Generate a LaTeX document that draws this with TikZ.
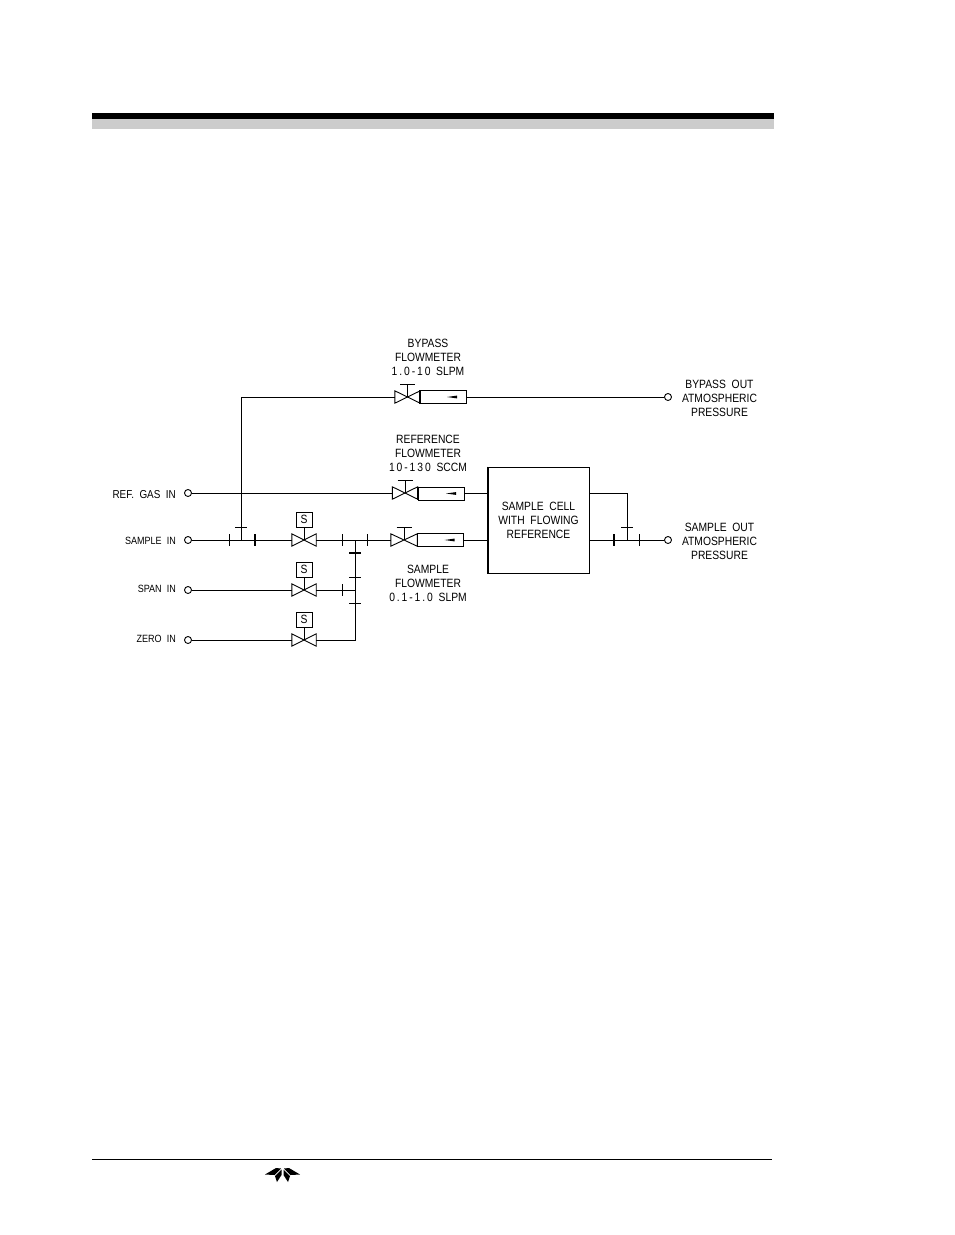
\documentclass[tikz,border=0pt]{standalone}
\usepackage{fontspec}
\setmainfont[FakeStretch=.86,WordSpace=2]{Liberation Sans}
\newcommand{\lab}{\fontsize{12}{14}\selectfont}
\newcommand{\labr}{\fontsize{11.5}{14}\selectfont}
\newcommand{\labs}{\fontsize{10.5}{14}\selectfont}
\newcommand{\digits}[1]{{\addfontfeatures{LetterSpace=16}#1}}
\newcommand{\valve}[4]{% name, x, y, half width
  \node[vbox,minimum width=#4*2pt] (#1) at (#2,#3) {};
  \draw[pipe] (#1.north west) -- (#1.south east) -- (#1.north east) -- (#1.south west) -- cycle;
}
\newcommand{\tickv}[2]{\draw[pipe] (#1,#2-6) -- (#1,#2+6);}
\newcommand{\tickvb}[2]{\draw[pipe,line width=1.8pt] (#1,#2-6) -- (#1,#2+6);}
\newcommand{\tickh}[2]{\draw[pipe] (#1-6,#2) -- (#1+6,#2);}
\newcommand{\tickhb}[2]{\draw[pipe,line width=1.8pt] (#1-6,#2) -- (#1+6,#2);}
\newcommand{\handle}[1]{\draw[pipe] (#1.center) -- ++(0,-13) ++(-7.5,0) -- ++(15,0);}
\newcommand{\solenoid}[2]{\node[sbox] (#1) at ([yshift=20.5pt]#2.center) {S}; \draw[pipe] (#1) -- (#2.center);}
\newcommand{\meterarrow}[2]{\fill (#1,#2) -- (#1+10,#2-1.4) -- (#1+10,#2+1.4) -- cycle;}
\tikzset{
  pipe/.style={line width=0.9pt,line join=miter,line cap=butt},
  port/.style={circle,draw,line width=0.9pt,minimum size=7pt,inner sep=0pt},
  vbox/.style={inner sep=0pt,minimum height=12pt,draw=none},
  meter/.style={draw,line width=0.9pt,inner sep=0pt,minimum height=13pt,minimum width=46pt},
  sbox/.style={draw,line width=0.9pt,inner sep=0pt,minimum width=16pt,minimum height=15pt,font=\lab},
  txt/.style={align=center,inner sep=0pt,font=\lab},
  ltxt/.style={anchor=east,inner sep=0pt,font=\labs},
}
\begin{document}
\begin{tikzpicture}[x=1pt,y=-1pt]
\useasboundingbox (0,0) rectangle (954,1235);
\fill[white] (0,0) rectangle (954,1235);
% page header/footer
\fill[black!20] (92,119) rectangle (774,129);
\fill[black] (92,113) rectangle (774,119);
\fill[black] (92,1158.8) rectangle (772,1160.4);
% logo
\fill (265,1174.5) -- (276,1168) -- (281,1168.5) -- (274.5,1175) -- cycle;
\fill (300,1174.5) -- (289,1168) -- (284,1168.5) -- (290.5,1175) -- cycle;
\fill (281.5,1169.5) -- (275,1176) -- (277,1182) -- (281.5,1175) -- cycle;
\fill (283.5,1169.5) -- (290,1176) -- (288,1182) -- (283.5,1175) -- cycle;
% ports
\node[port] (ref) at (188,493) {};
\node[port] (smp) at (188,540) {};
\node[port] (spn) at (188,590) {};
\node[port] (zer) at (188,640) {};
\node[port] (byo) at (668,397) {};
\node[port] (sao) at (668,540) {};
% valves
\valve{vs}{304}{540}{12}
\valve{vp}{304}{590}{12}
\valve{vz}{304}{640}{12}
\valve{vb}{407.5}{397}{12.5}
\valve{vr}{405}{493}{12.5}
\valve{vm}{404}{540}{13}
\solenoid{ss}{vs}
\solenoid{sp}{vp}
\solenoid{sz}{vz}
\handle{vb}
\handle{vr}
\handle{vm}
% meters
\node[meter] (mb) at (443,397) {};
\node[meter] (mr) at (441.5,493.5) {};
\node[meter] (mm) at (440,540) {};
\draw[line width=1.8pt] (mb.north west) -- (mb.south west);
\draw[line width=1.8pt] (mr.north west) -- (mr.south west);
\draw[line width=1.8pt] (mm.north east) -- (mm.south east);
\meterarrow{447}{397}
\meterarrow{446}{493.5}
\meterarrow{444.5}{540}
% cell
\node[draw,line width=1pt,minimum width=101pt,minimum height=106pt,inner sep=0pt,txt] (cell) at (538.5,520) {SAMPLE CELL\\WITH FLOWING\\REFERENCE};
\draw[line width=1.6pt] (cell.north west) -- (cell.south west);
% junction coordinates
\coordinate (jb) at (241,540);
\coordinate (jm) at (355,540);
\coordinate (jp) at (355,590);
\coordinate (jo) at (627,540);
% connectors
\draw[pipe] (ref) -- (vr.west);
\draw[pipe] (smp) -- (vs.west);
\draw[pipe] (spn) -- (vp.west);
\draw[pipe] (zer) -- (vz.west);
\draw[pipe] (vs.east) -- (vm.west);
\draw[pipe] (vp.east) -- (jp);
\draw[pipe] (vz.east) -| (jm);
\draw[pipe] (jb) |- (vb.west);
\draw[pipe] (mb) -- (byo);
\draw[pipe] (mr) -- (mr -| cell.west);
\draw[pipe] (mm) -- (mm -| cell.west);
\draw[pipe] (sao -| cell.east) -- (sao);
\draw[pipe] (jo) |- (mr -| cell.east);
% ticks
\tickh{241}{527}
\tickv{229.5}{540}
\tickvb{255}{540}
\tickv{342}{540}
\tickv{367}{540}
\tickhb{355}{553}
\tickh{355}{577}
\tickh{355}{603}
\tickv{342}{590}
\tickh{627}{527}
\tickvb{614}{540}
\tickv{639}{540}
% labels
\node[txt] (lb) at (428,357) {BYPASS\\FLOWMETER\\\digits{1.0-10} SLPM};
\node[txt] (lr) at (428,453.5) {REFERENCE\\FLOWMETER\\\digits{10-130} SCCM};
\node[txt] (lm) at (428,583) {SAMPLE\\FLOWMETER\\\digits{0.1-1.0} SLPM};
\node[txt] (lbo) at (719.5,398) {BYPASS OUT\\ATMOSPHERIC\\PRESSURE};
\node[txt] (lso) at (719.5,541) {SAMPLE OUT\\ATMOSPHERIC\\PRESSURE};
\node[ltxt,font=\labr] (lref) at (176,495) {REF. GAS IN};
\node[ltxt] (lsmp) at (176,540.5) {SAMPLE IN};
\node[ltxt] (lspn) at (176,589) {SPAN IN};
\node[ltxt] (lzer) at (176,639) {ZERO IN};
\end{tikzpicture}
\end{document}
